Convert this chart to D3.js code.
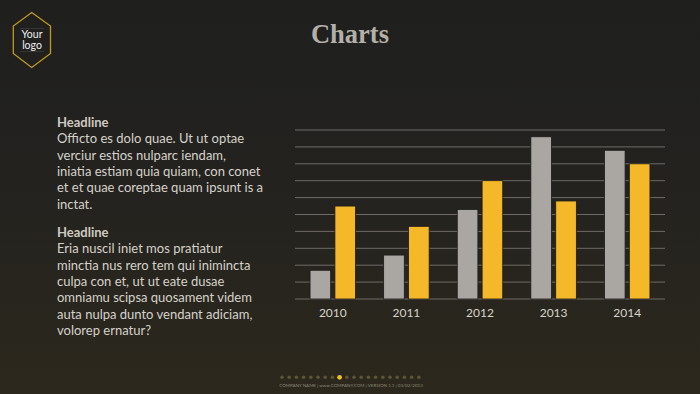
<!DOCTYPE html>
<html>
<head>
  <meta charset="utf-8">
  <title>Charts</title>
  <script src="https://d3js.org/d3.v7.min.js"></script>
  <style>
    html, body { margin: 0; padding: 0; background: #222; }
    svg { display: block; }
  </style>
</head>
<body>

<div id="slide"></div>

<script>
// Chart data
const years = ["2010", "2011", "2012", "2013", "2014"];
const seriesGray = [1.7, 2.6, 5.3, 9.6, 8.8];
const seriesYellow = [5.5, 4.3, 7.0, 5.8, 8.0];
const gridTicks = [0, 1, 2, 3, 4, 5, 6, 7, 8, 9, 10];

// Left column text
const block1 = ["Officto es dolo quae. Ut ut optae", "verciur estios nulparc iendam,",
  "iniatia estiam quia quiam, con conet", "et et quae coreptae quam ipsunt is a", "inctat."];
const block2 = ["Eria nuscil iniet mos pratiatur", "minctia nus rero tem qui inimincta",
  "culpa con et, ut ut eate dusae", "omniamu scipsa quosament videm",
  "auta nulpa dunto vendant adiciam,", "volorep ernatur?"];

const width = 700;
const height = 394;

const svg = d3.select("#slide")
  .append("svg")
  .attr("width", width)
  .attr("height", height);

// background gradient
const defs = svg.append("defs");
const bg = defs.append("linearGradient")
  .attr("id", "bg")
  .attr("x1", 0).attr("y1", 0).attr("x2", 0).attr("y2", 1);
bg.append("stop").attr("offset", "0%").attr("stop-color", "#1f1f1e");
bg.append("stop").attr("offset", "45%").attr("stop-color", "#23221f");
bg.append("stop").attr("offset", "100%").attr("stop-color", "#2c281d");

svg.append("rect")
  .attr("width", width)
  .attr("height", height)
  .attr("fill", "url(#bg)");

// logo
const logo = svg.append("g");
logo.append("polygon")
  .attr("points", "31.7,12.5 50.5,26 50.5,53.5 31.7,67.5 13.3,53.5 13.3,26")
  .attr("fill", "none")
  .attr("stroke", "#c39a1f")
  .attr("stroke-width", 1.3);
logo.append("line").attr("x1", 20).attr("x2", 44).attr("y1", 28.5).attr("y2", 28.5)
  .attr("stroke", "#444").attr("stroke-width", 0.6);
logo.append("line").attr("x1", 20).attr("x2", 44).attr("y1", 51.5).attr("y2", 51.5)
  .attr("stroke", "#444").attr("stroke-width", 0.6);
logo.append("text").attr("x", 32).attr("y", 37.5).attr("text-anchor", "middle")
  .attr("font-family", "Lato, sans-serif").attr("font-size", 10.5).attr("fill", "#eeeeee")
  .text("Your");
logo.append("text").attr("x", 32).attr("y", 48.5).attr("text-anchor", "middle")
  .attr("font-family", "Lato, sans-serif").attr("font-size", 10.5).attr("fill", "#eeeeee")
  .text("logo");

// title
svg.append("text")
  .attr("x", 350)
  .attr("y", 43)
  .attr("text-anchor", "middle")
  .attr("font-family", "'Liberation Serif', serif")
  .attr("font-weight", "bold")
  .attr("font-size", 26.5)
  .attr("fill", "#b3afa9")
  .text("Charts");

// text blocks
const textFont = "Lato, sans-serif";
function writeBlock(y0, lines) {
  svg.append("text")
    .attr("x", 57).attr("y", y0)
    .attr("font-family", textFont).attr("font-weight", "bold")
    .attr("font-size", 13).attr("fill", "#cfcac2")
    .text("Headline");
  svg.append("g").selectAll("text")
    .data(lines)
    .enter()
    .append("text")
    .attr("x", 57)
    .attr("y", (d, i) => y0 + 16.3 * (i + 1))
    .attr("font-family", textFont)
    .attr("font-size", 13)
    .attr("fill", "#d6d2cb")
    .text(d => d);
}
writeBlock(127, block1);
writeBlock(237, block2);

// chart
const x0 = d3.scaleBand()
  .domain(years)
  .range([296, 664]);

const x1 = d3.scaleBand()
  .domain(["gray", "yellow"])
  .range([0, 45.5])
  .paddingInner(0.17);

const y = d3.scaleLinear()
  .domain([0, 10])
  .range([299, 130]);

svg.append("g").selectAll("line")
  .data(gridTicks)
  .enter()
  .append("line")
  .attr("x1", 295).attr("x2", 665)
  .attr("y1", d => y(d)).attr("y2", d => y(d))
  .attr("stroke", "#6e6b67")
  .attr("stroke-width", 1);

const groups = svg.append("g").selectAll("g")
  .data(years)
  .enter()
  .append("g")
  .attr("transform", d => `translate(${x0(d) + x0.bandwidth() / 2 - 22.75},0)`);

groups.append("rect")
  .attr("x", x1("gray"))
  .attr("width", x1.bandwidth())
  .attr("y", (d, i) => y(seriesGray[i]))
  .attr("height", (d, i) => y(0) - y(seriesGray[i]))
  .attr("fill", "#aaa6a2")
  .attr("stroke", "#1a1a1a")
  .attr("stroke-width", 0.8);

groups.append("rect")
  .attr("x", x1("yellow"))
  .attr("width", x1.bandwidth())
  .attr("y", (d, i) => y(seriesYellow[i]))
  .attr("height", (d, i) => y(0) - y(seriesYellow[i]))
  .attr("fill", "#f4b829")
  .attr("stroke", "#1a1a1a")
  .attr("stroke-width", 0.8);

const xAxis = svg.append("g")
  .attr("transform", "translate(0,299)")
  .call(d3.axisBottom(x0).tickSize(0).tickPadding(9));
xAxis.select(".domain").remove();
xAxis.selectAll("text")
  .attr("font-family", "Lato, sans-serif")
  .attr("font-size", 12)
  .attr("fill", "#d8d4cc");

// footer pager
const dots = d3.range(20);
svg.append("g").selectAll("circle")
  .data(dots)
  .enter()
  .append("circle")
  .attr("cx", d => 282 + d * 7.2)
  .attr("cy", 377.3)
  .attr("r", d => d === 8 ? 2.4 : 1.8)
  .attr("fill", d => d === 8 ? "#f2c01e" : "#5b5533");

svg.append("text")
  .attr("x", 351)
  .attr("y", 387)
  .attr("text-anchor", "middle")
  .attr("font-family", "Lato, sans-serif")
  .attr("font-size", 4.5)
  .attr("fill", "#8c8877")
  .text("COMPANY NAME | www.COMPANY.COM | VERSION 1.1 | 03/02/2013");
</script>

</body>
</html>
